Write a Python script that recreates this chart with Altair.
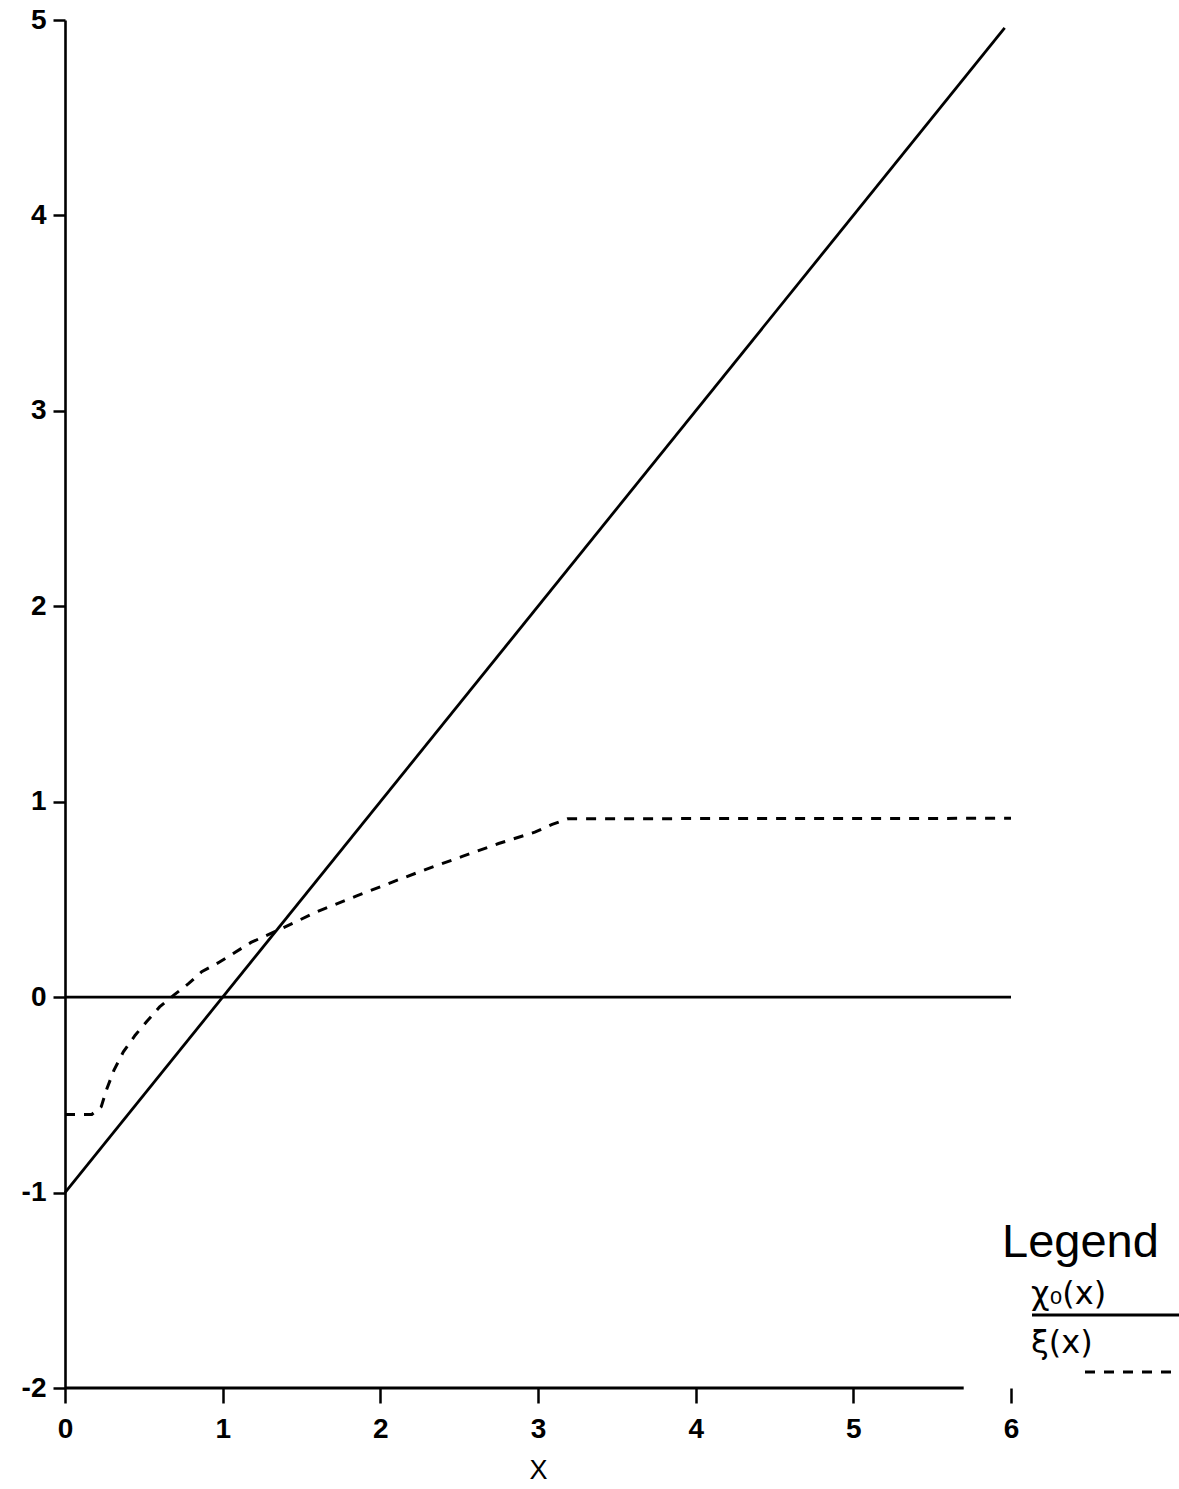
import altair as alt
import pandas as pd

# chi_0(x) = x - 1 (solid)
chi_x = [0.0, 5.96]
chi_y = [-1.0, 4.96]

# xi(x) (dashed)
xi_x = [0.0, 0.17, 0.23, 0.265, 0.31, 0.37, 0.445, 0.517, 0.60, 0.69, 0.785,
        0.867, 0.97, 1.18, 1.39, 1.60, 1.85, 2.08, 2.29, 2.52, 2.75, 2.98,
        3.09, 3.19, 6.0]
xi_y = [-0.6, -0.6, -0.56, -0.47, -0.375, -0.28, -0.195, -0.126, -0.05, 0.01,
        0.07, 0.13, 0.175, 0.28, 0.357, 0.438, 0.518, 0.59, 0.654, 0.72, 0.786,
        0.844, 0.884, 0.913, 0.915]

# horizontal reference line at zero
zero_x = [0.0, 6.0]
zero_y = [0.0, 0.0]

x_ticks = [0, 1, 2, 3, 4, 5, 6]
y_ticks = [-2, -1, 0, 1, 2, 3, 4, 5]

FONT = "Liberation Sans"
W, H = 946, 1368

solid = pd.DataFrame({
    "x": chi_x + zero_x,
    "y": chi_y + zero_y,
    "series": ["chi"] * len(chi_x) + ["zero"] * len(zero_x),
})
dashed = pd.DataFrame({"x": xi_x, "y": xi_y})

xs = alt.Scale(domain=[0, 6], nice=False, zero=False)
ys = alt.Scale(domain=[-2, 5], nice=False, zero=False)

x_axis = alt.Axis(values=x_ticks, domain=False, grid=False, tickSize=15,
                  tickWidth=2.5, tickColor="black", labelPadding=12,
                  labelFlush=False, labelFont=FONT, labelFontSize=28,
                  labelFontWeight="bold", labelColor="black",
                  labelExpr="datum.value + ''",
                  title="X", titleFont=FONT, titleFontSize=27,
                  titleFontWeight="normal", titleColor="black", titlePadding=14)
y_axis = alt.Axis(values=y_ticks, domain=True, domainColor="black",
                  domainWidth=2.6, grid=False, tickSize=12, tickWidth=2.5,
                  tickColor="black", labelPadding=7, labelFlush=False,
                  labelFont=FONT, labelFontSize=28, labelFontWeight="bold",
                  labelColor="black", title=None, labelExpr="datum.value + ''")

solid_lines = alt.Chart(solid).mark_line(color="black", strokeWidth=2.8).encode(
    x=alt.X("x:Q", scale=xs, axis=x_axis),
    y=alt.Y("y:Q", scale=ys, axis=y_axis),
    detail="series:N",
)

dashed_line = alt.Chart(dashed).mark_line(
    color="black", strokeWidth=3, strokeDash=[10, 9]
).encode(x=alt.X("x:Q", scale=xs), y=alt.Y("y:Q", scale=ys))

# bottom axis line, stopping short of the last tick
base_line = alt.Chart(pd.DataFrame({"x": [0.0], "x2": [5.7], "y": [-2.0]})).mark_rule(
    color="black", strokeWidth=3
).encode(x=alt.X("x:Q", scale=xs), x2="x2:Q", y=alt.Y("y:Q", scale=ys))

# legend block
legend_title = alt.Chart().mark_text(
    font=FONT, fontSize=47, align="left", baseline="alphabetic", color="black"
).encode(x=alt.value(937), y=alt.value(1237), text=alt.value("Legend"))

chi_label = alt.Chart().mark_text(
    font="DejaVu Sans", fontSize=32, align="left", baseline="alphabetic", color="black"
).encode(x=alt.value(966), y=alt.value(1284), text=alt.value("χ₀(x)"))

chi_key = alt.Chart().mark_rule(color="black", strokeWidth=2.8).encode(
    x=alt.value(967), x2=alt.value(1114), y=alt.value(1295)
)

xi_label = alt.Chart().mark_text(
    font="DejaVu Sans", fontSize=32, align="left", baseline="alphabetic", color="black"
).encode(x=alt.value(966), y=alt.value(1333), text=alt.value("ξ(x)"))

xi_key = alt.Chart().mark_rule(color="black", strokeWidth=3, strokeDash=[10, 9]).encode(
    x=alt.value(1020), x2=alt.value(1114), y=alt.value(1352)
)

chart = alt.layer(
    solid_lines, dashed_line, base_line,
    legend_title, chi_label, chi_key, xi_label, xi_key,
).properties(
    width=W, height=H,
    autosize=alt.AutoSizeParams(type="none"),
    padding={"left": 65, "top": 20, "right": 168, "bottom": 101},
    background="white",
).configure_view(stroke=None)

chart.save("out.html", embed_options={"renderer": "svg", "actions": False})
